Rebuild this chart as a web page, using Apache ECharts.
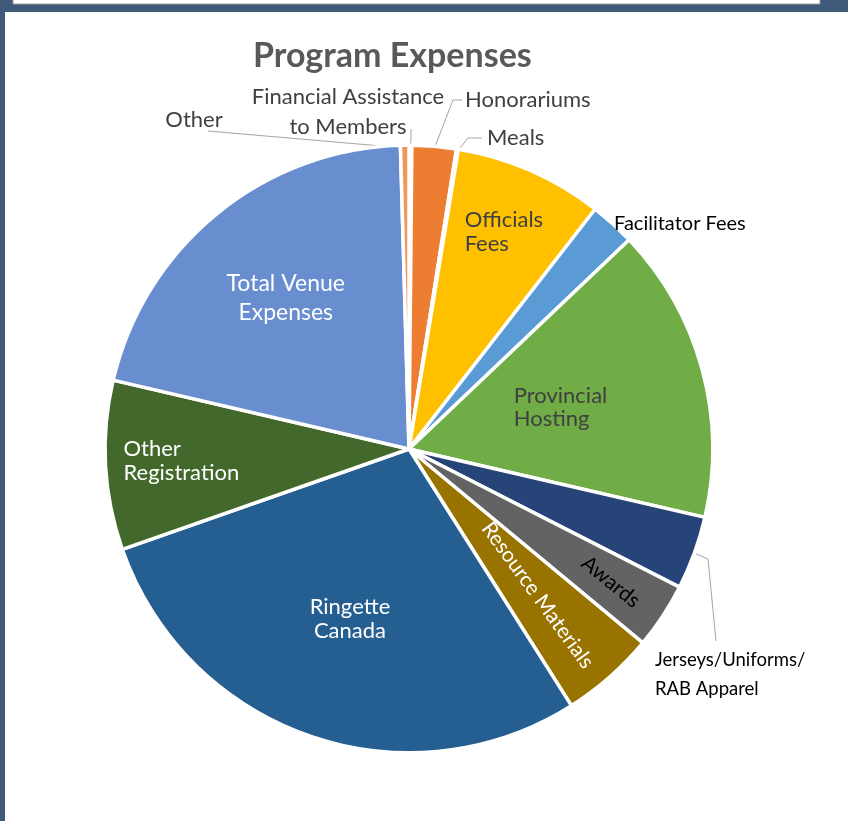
<!DOCTYPE html>
<html>
<head>
<meta charset="utf-8">
<title>Program Expenses</title>
<script src="https://cdn.jsdelivr.net/npm/echarts@6/dist/echarts.min.js"></script>
<style>
  html, body { margin: 0; padding: 0; background: #fff; }
  #chart { width: 848px; height: 821px; }
</style>
</head>
<body>
<div id="chart"></div>
<script>
// slices, clockwise from 12 o'clock
const categories = [
  'Financial Assistance\nto Members',
  'Honorariums',
  'Meals',
  'Officials\nFees',
  'Facilitator Fees',
  'Provincial\nHosting',
  'Jerseys/Uniforms/\nRAB Apparel',
  'Awards',
  'Resource Materials',
  'Ringette\nCanada',
  'Other\nRegistration',
  'Total Venue\nExpenses',
  'Other'
];
// share of program expenses (%)
const amounts = [0.15, 2.35, 0.1, 7.9, 2.4, 15.7, 3.9, 3.5, 5.0, 28.6, 9.0, 20.9, 0.45];

const sliceColors = ['#4472C4', '#ED7D31', '#A5A5A5', '#FFC000', '#5B9BD5', '#70AD47',
  '#264478', '#636363', '#997300', '#255E91', '#43682B', '#698ED0', '#F1975A'];
const labelColors = ['#404040', '#404040', '#404040', '#404040', '#000000', '#404040',
  '#000000', '#000000', '#ffffff', '#ffffff', '#ffffff', '#ffffff', '#404040'];
const lineHeights = [30, 24, 24, 24, 24, 23, 29, 24, 24, 24, 24, 29, 24];
const fontSizes = [22, 22, 22, 22, 20, 22, 18.5, 21, 21, 22, 22, 23, 22];

const CX = 409, CY = 449, R = 302;

// labels drawn inside a slice: distance from centre as share of radius
const insideSpots = {
  3: { f: 0.785, align: 'left' },
  5: { f: 0.52, align: 'left' },
  7: { f: 0.80, align: 'center', rotate: -39 },
  8: { f: 0.645, align: 'center', rotate: -54 },
  9: { f: 0.595, align: 'center' },
  10: { f: 0.755, align: 'left' },
  11: { f: 0.645, align: 'center' }
};
// labels outside: text anchor + leader line bends
const outsideSpots = {
  0: { x: 348, y: 112, align: 'center', bends: [[411, 138], [411, 129]] },
  1: { x: 465, y: 100, align: 'left', bends: [[453, 100], [462, 100]] },
  2: { x: 487, y: 138, align: 'left', bends: [[468, 138], [482, 138]] },
  4: { x: 614, y: 224, align: 'left', bends: null },
  6: { x: 655, y: 675, align: 'left', bends: [[708, 559], [716, 641]] },
  12: { x: 194, y: 120, align: 'center', bends: [[208, 131]] }
};

const total = amounts.reduce((a, b) => a + b, 0);
function midAngle(i) {
  let s = 0;
  for (let k = 0; k < i; k++) s += amounts[k];
  return (s + amounts[i] / 2) / total * 360;
}
function polar(deg, r) {
  const a = deg * Math.PI / 180;
  return [CX + r * Math.sin(a), CY - r * Math.cos(a)];
}

const pieData = categories.map((name, i) => {
  const ins = insideSpots[i];
  const out = outsideSpots[i];
  return {
    name: name,
    value: amounts[i],
    itemStyle: { color: sliceColors[i] },
    label: {
      position: ins ? 'inside' : 'outside',
      color: labelColors[i],
      fontSize: fontSizes[i],
      lineHeight: lineHeights[i],
      rotate: ins && ins.rotate ? ins.rotate : 0
    },
    labelLine: { show: !!(out && out.bends) }
  };
});

const chart = echarts.init(document.getElementById('chart'));
chart.setOption({
  animation: false,
  backgroundColor: '#ffffff',
  title: {
    text: 'Program Expenses',
    left: 248,
    top: 34,
    textStyle: { fontFamily: 'Lato', fontWeight: 'bold', fontSize: 34, color: '#595959' }
  },
  graphic: [
    { type: 'rect', shape: { x: 0, y: 0, width: 848, height: 12 }, style: { fill: '#3f5a78' } },
    { type: 'rect', shape: { x: 0, y: 0, width: 5, height: 821 }, style: { fill: '#3f5a78' } },
    { type: 'rect', shape: { x: 13, y: -3, width: 807, height: 7 }, style: { fill: '#ffffff', stroke: '#9a9a9a', lineWidth: 1 } }
  ],
  series: [{
    type: 'pie',
    center: [CX, CY],
    radius: R + 1.75,
    startAngle: 90,
    clockwise: true,
    avoidLabelOverlap: false,
    silent: true,
    itemStyle: { borderColor: '#ffffff', borderWidth: 3.5 },
    label: { show: true, formatter: '{b}', fontFamily: 'Lato' },
    labelLine: { length: 10, length2: 10, smooth: false, lineStyle: { color: '#a6a6a6', width: 1 } },
    labelLayout: function (p) {
      const i = p.dataIndex;
      const ins = insideSpots[i];
      if (ins) {
        const c = polar(midAngle(i), R * ins.f);
        if (ins.align === 'left') {
          return { x: c[0] - p.labelRect.width / 2, y: c[1], align: 'left', verticalAlign: 'middle' };
        }
        return { x: c[0], y: c[1], align: 'center', verticalAlign: 'middle' };
      }
      const out = outsideSpots[i];
      const res = { x: out.x, y: out.y, align: out.align, verticalAlign: 'middle' };
      if (out.bends) res.labelLinePoints = [polar(midAngle(i), R - 1)].concat(out.bends);
      return res;
    },
    data: pieData
  }]
});
</script>
</body>
</html>
